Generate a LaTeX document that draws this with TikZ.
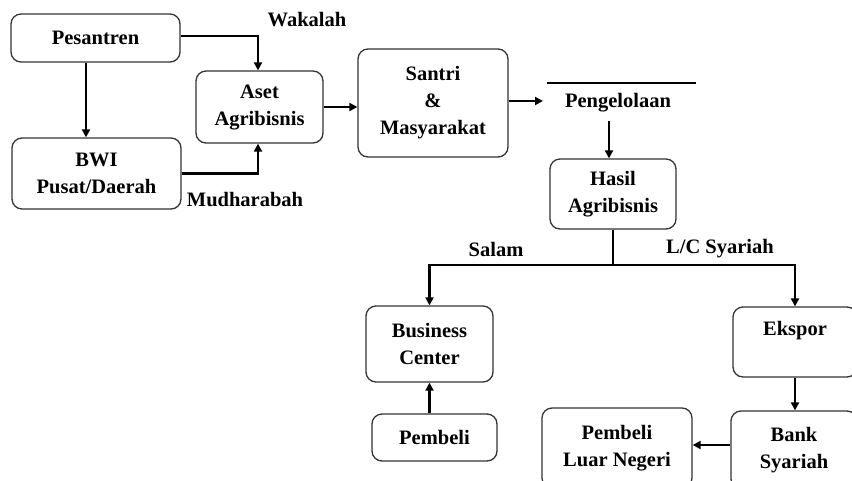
\documentclass[tikz,border=0pt]{standalone}
\usepackage{fontspec}
\setmainfont{Liberation Serif}
\usetikzlibrary{arrows.meta}
\begin{document}
\begin{tikzpicture}[x=1pt,y=-1pt,
  box/.style={draw=black!80, line width=1.3pt, rounded corners=10pt, align=center, inner sep=0pt},
  lbl/.style={inner sep=0pt, align=center},
  arr/.style={line width=2.1pt, -{Triangle[length=8pt,width=8pt]}},
  ln/.style={line width=2.1pt},
  every node/.style={font=\fontsize{20.5}{27}\selectfont\bfseries}]
\useasboundingbox (0,0) rectangle (852,480);
\clip (0,0) rectangle (852,480);
\fill[white] (0,0) rectangle (852,480);
% boxes
\node[box, minimum width=169pt, minimum height=48pt] (pes) at (95.5,38) {Pesantren};
\node[box, minimum width=169pt, minimum height=71pt] (bwi) at (96.5,173.5) {BWI\\Pusat/Daerah};
\node[box, minimum width=127pt, minimum height=72pt] (aset) at (259.5,107) {Aset\\Agribisnis};
\node[box, minimum width=150pt, minimum height=108pt] (san) at (433,103) {Santri\\\&\\Masyarakat};
\node[lbl] (peng) at (618,103) {Pengelolaan};
\node[box, minimum width=126pt, minimum height=70pt] (has) at (613,194) {Hasil\\Agribisnis};
\node[box, minimum width=127pt, minimum height=76pt] (bc) at (429.5,344) {Business\\Center};
\node[box, minimum width=125pt, minimum height=47pt] (pem) at (434.5,437.5) {Pembeli};
\node[box, minimum width=124pt, minimum height=70pt] (eks) at (795,342) {Ekspor\\\phantom{X}};
\node[box, minimum width=126pt, minimum height=78pt] (bank) at (794,450) {Bank\\Syariah};
\node[box, minimum width=150pt, minimum height=80pt] (pln) at (617,448) {Pembeli\\Luar Negeri};
% labels
\node[lbl] (wak) at (307,20) {Wakalah};
\node[lbl] (mud) at (245,200) {Mudharabah};
\node[lbl] (sal) at (496,249) {Salam};
\node[lbl] (lc) at (720,249) {L/C Syariah};
% coordinates
\coordinate (sanout) at (543,101);
\coordinate (barL) at (547,83);
\coordinate (barR) at (696,83);
\coordinate (pengout) at (609,121);
\coordinate (split) at (613,265);
% connectors
\draw[arr] ([xshift=-9.5pt]pes.south) -- ([xshift=-10.5pt]bwi.north);
\draw[arr] ([yshift=2pt]pes.east) -| ([xshift=-1.5pt]aset.north);
\draw[arr] (bwi.east) -| ([xshift=-1.5pt]aset.south);
\draw[arr] (aset.east) -- (aset.east -| san.west);
\draw[arr] ([yshift=2pt]san.east) -- (sanout);
\draw[ln, line width=1.7pt] (barL) -- (barR);
\draw[arr] (pengout) -- (pengout |- has.north);
\draw[ln] (has.south) -- (split);
\draw[arr] (split) -| (bc.north);
\draw[arr] (split) -| (eks.north);
\draw[arr] (pem.north -| bc.south) -- (bc.south);
\draw[arr] (eks.south) -- (eks.south |- bank.north);
\draw[arr] ([yshift=5pt]bank.west) -- ([yshift=5pt]bank.west -| pln.east);
\end{tikzpicture}
\end{document}
